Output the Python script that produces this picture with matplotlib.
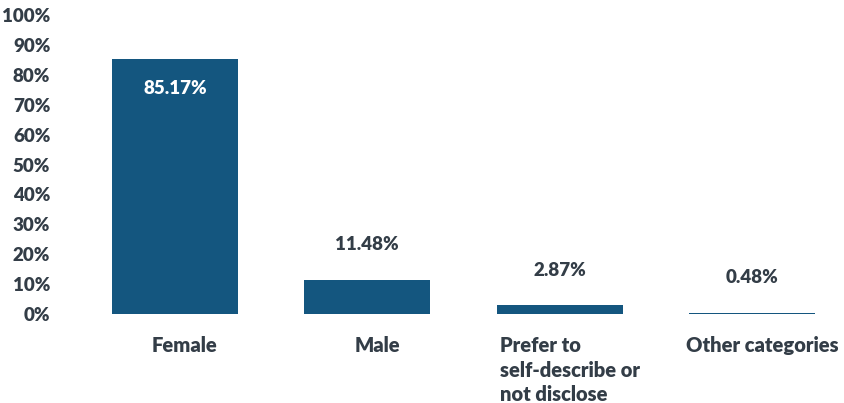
import matplotlib.pyplot as plt
from matplotlib.ticker import FuncFormatter

categories = ['Female', 'Male', 'Prefer to\nself-describe or\nnot disclose', 'Other categories']
shares = [85.17, 11.48, 2.87, 0.48]
value_labels = ['85.17%', '11.48%', '2.87%', '0.48%']

bar_color = '#14567f'
text_color = '#333d47'
weight = 800

plt.rcParams['font.family'] = ['Lato', 'DejaVu Sans']

fig = plt.figure(figsize=(8.45, 4.03), dpi=100)
ax = fig.add_axes([60 / 845, 89 / 403, 785 / 845, 299 / 403])

x = list(range(len(categories)))
ax.bar(x, shares, width=0.655, color=bar_color)

ax.set_ylim(0, 100)
ax.set_xlim(-0.598, 3.484)
ax.set_yticks(range(0, 101, 10))
ax.yaxis.set_major_formatter(FuncFormatter(lambda v, _: f'{v:.0f}%'))
ax.tick_params(axis='y', length=0, pad=7, labelsize=13.5, labelcolor=text_color)
ax.set_xticks([])
for s in ax.spines.values():
    s.set_visible(False)
for lbl in ax.get_yticklabels():
    lbl.set_fontweight(weight)

# value labels: inside the tall bar, above the short ones
for xi, v, lab in zip(x, shares, value_labels):
    if v > 50:
        ax.annotate(lab, (xi, v), xytext=(0, -29), textcoords='offset pixels',
                    ha='center', va='center', color='white', fontsize=13.5, fontweight=weight)
    else:
        ax.annotate(lab, (xi, v), xytext=(0, 35), textcoords='offset pixels',
                    ha='center', va='center', color=text_color, fontsize=13.5, fontweight=weight)

# category labels under the bars
for xi, cat in zip(x, categories):
    ax.annotate(cat, (xi, 0), xytext=(10, -22), textcoords='offset pixels',
                ha='center', va='top', multialignment='left', linespacing=1.35,
                color=text_color, fontsize=14.5, fontweight=weight,
                annotation_clip=False)

fig.savefig('out.png', dpi=100)
